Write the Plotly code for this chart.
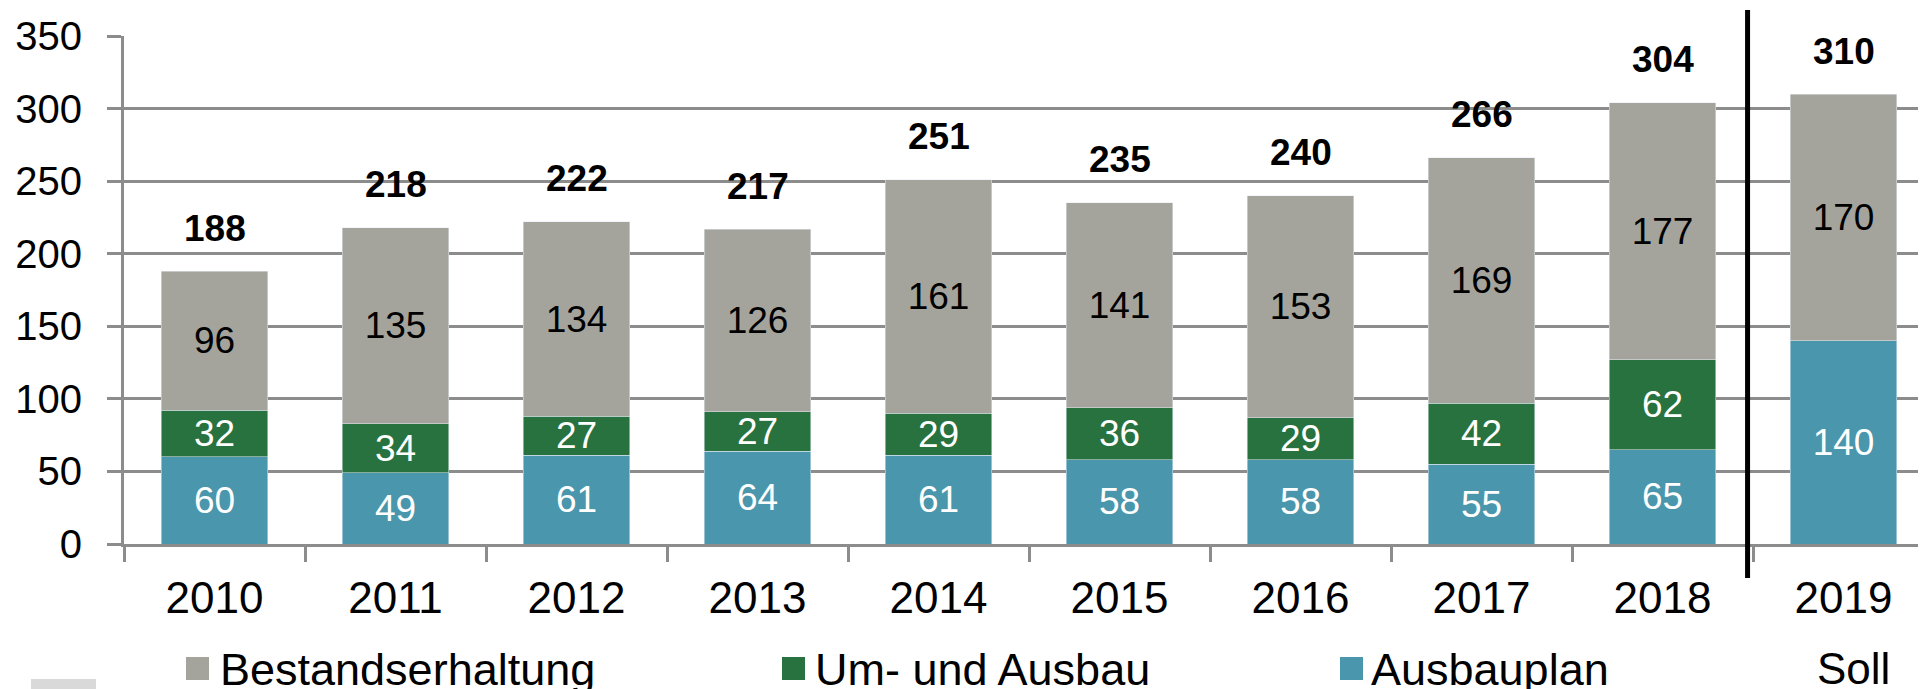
import plotly.graph_objects as go

# ---- data ----
years = ["2010", "2011", "2012", "2013", "2014", "2015", "2016", "2017", "2018", "2019"]
ausbauplan = [60, 49, 61, 64, 61, 58, 58, 55, 65, 140]
um_ausbau = [32, 34, 27, 27, 29, 36, 29, 42, 62, None]
bestand = [96, 135, 134, 126, 161, 141, 153, 169, 177, 170]
totals = [188, 218, 222, 217, 251, 235, 240, 266, 304, 310]
series_names = ["Bestandserhaltung", "Um- und Ausbau", "Ausbauplan"]
soll_label = "Soll"

# ---- style ----
OFF = 8  # default page body margin
W, H = 1926 - OFF, 689 - OFF
L, T, B = 116, 28, 145
R = 0
PW, PH = W - L - R, H - T - B
FONT = "Arial, Liberation Sans, sans-serif"
C_GRAY = "#a4a49c"
C_GREEN = "#287240"
C_BLUE = "#4a96ac"
C_GRID = "#8c8c8c"


def px_x(sx):
    return (sx - OFF - L) / PW


def px_y(sy):
    return (H - B - (sy - OFF)) / PH


def txt(vals):
    return ["" if v is None else str(v) for v in vals]


fig = go.Figure()
common = dict(width=0.59, textposition="inside", insidetextanchor="middle",
              textangle=0, constraintext="none", hoverinfo="skip", showlegend=False)
fig.add_trace(go.Bar(x=years, y=ausbauplan, name=series_names[2], marker_color=C_BLUE,
                     text=txt(ausbauplan), insidetextfont=dict(color="white", size=37, family=FONT), **common))
fig.add_trace(go.Bar(x=years, y=um_ausbau, name=series_names[1], marker_color=C_GREEN,
                     text=txt(um_ausbau), insidetextfont=dict(color="white", size=37, family=FONT), **common))
fig.add_trace(go.Bar(x=years, y=bestand, name=series_names[0], marker_color=C_GRAY,
                     text=txt(bestand), insidetextfont=dict(color="black", size=37, family=FONT), **common))

annotations = []
for i, tot in enumerate(totals):
    annotations.append(dict(x=i, y=tot, xref="x", yref="y", text="<b>%d</b>" % tot,
                            showarrow=False, yshift=43, yanchor="middle",
                            font=dict(size=37, color="black", family=FONT)))
# "Soll" under 2019
annotations.append(dict(x=px_x(1853), y=px_y(668), xref="paper", yref="paper", text=soll_label,
                        showarrow=False, xanchor="center", yanchor="middle",
                        font=dict(size=44, color="black", family=FONT)))

shapes = []
# manual legend
legend_items = [(series_names[0], C_GRAY, 186, 218), (series_names[1], C_GREEN, 782, 813),
                (series_names[2], C_BLUE, 1340, 1369)]
for name, col, mx, tx in legend_items:
    shapes.append(dict(type="rect", xref="paper", yref="paper", x0=px_x(mx), x1=px_x(mx + 23),
                       y0=px_y(680), y1=px_y(657), fillcolor=col, line=dict(width=0)))
    annotations.append(dict(x=px_x(tx), y=px_y(669), xref="paper", yref="paper", text=name,
                            showarrow=False, xanchor="left", yanchor="middle",
                            font=dict(size=45, color="black", family=FONT)))
# separator line between actual and target
shapes.append(dict(type="line", xref="x", yref="paper", x0=8.47, x1=8.47,
                   y0=px_y(578), y1=px_y(10), line=dict(color="black", width=5)))
# light gray box bottom-left
shapes.append(dict(type="rect", xref="paper", yref="paper", x0=px_x(31), x1=px_x(96),
                   y0=px_y(689), y1=px_y(679), fillcolor="#d9d9d9", line=dict(width=0)))

fig.update_layout(
    width=W, height=H, margin=dict(l=L, r=R, t=T, b=B, pad=0),
    barmode="stack", plot_bgcolor="white", paper_bgcolor="white",
    font=dict(family=FONT, color="black"),
    annotations=annotations, shapes=shapes, showlegend=False,
)
fig.update_xaxes(type="category", range=[-0.5, -0.5 + PW / 181.0], tickson="boundaries",
                 ticks="outside", ticklen=15, tickwidth=3, tickcolor=C_GRID,
                 showline=True, linecolor=C_GRID, linewidth=3, showgrid=False,
                 tickfont=dict(size=44, family=FONT, color="black"), ticklabelstandoff=13)
fig.update_yaxes(range=[0, 350], dtick=50, ticks="outside", ticklen=14, tickwidth=3,
                 tickcolor=C_GRID, showline=True, linecolor=C_GRID, linewidth=3,
                 showgrid=True, gridcolor=C_GRID, gridwidth=2.5, zeroline=False,
                 tickfont=dict(size=40, family=FONT, color="black"), ticklabelstandoff=17)

fig.write_html("out.html")
